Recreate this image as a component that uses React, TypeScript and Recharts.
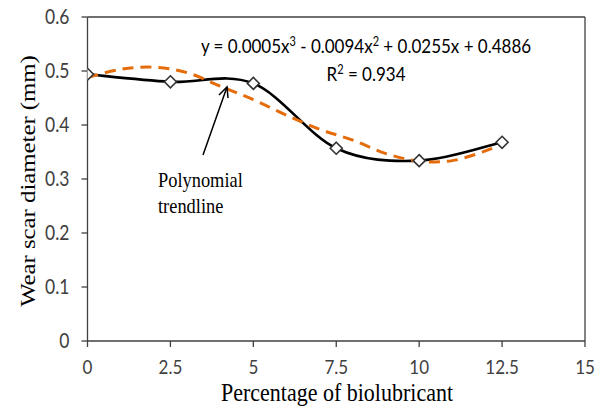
import React from "react"
import { LineChart, Line, XAxis, YAxis, ReferenceLine } from "recharts"

// measured wear scar diameters (mm) per biolubricant share (%)
const percentages = [0, 2.5, 5, 7.5, 10, 12.5]
const wearScar = [0.494, 0.48, 0.477, 0.357, 0.334, 0.368]

// polynomial trendline, sampled along the fitted curve
const trendX = [0, 1, 2, 3, 4, 5, 6, 7, 8, 9, 10, 11, 12, 12.5]
const trendY = [0.488, 0.503, 0.507, 0.497, 0.472, 0.447, 0.418, 0.392, 0.372, 0.347, 0.333, 0.334, 0.352, 0.365]

const xTicks = [0, 2.5, 5, 7.5, 10, 12.5, 15]
const yTicks = [0, 0.1, 0.2, 0.3, 0.4, 0.5, 0.6]

const seriesData = percentages.map((x, i) => ({ x, y: wearScar[i] }))
const trendData = trendX.map((x, i) => ({ x, y: trendY[i] }))

const AXIS = "#404040"
const SANS = "Lato, 'Open Sans', sans-serif"
const SERIF = "'Liberation Serif', 'Times New Roman', serif"
const STRETCH = 1.18

// Excel-style smoothed line (Catmull-Rom through every point)
const smoothCurve = (context: any) => {
  let pts: number[][] = []
  return {
    areaStart() {},
    areaEnd() {},
    lineStart() {
      pts = []
    },
    lineEnd() {
      if (!pts.length) return
      context.moveTo(pts[0][0], pts[0][1])
      for (let i = 0; i < pts.length - 1; i++) {
        const p0 = pts[i - 1] || pts[i]
        const p1 = pts[i]
        const p2 = pts[i + 1]
        const p3 = pts[i + 2] || p2
        context.bezierCurveTo(
          p1[0] + (p2[0] - p0[0]) / 6,
          p1[1] + (p2[1] - p0[1]) / 6,
          p2[0] - (p3[0] - p1[0]) / 6,
          p2[1] - (p3[1] - p1[1]) / 6,
          p2[0],
          p2[1]
        )
      }
    },
    point(x: number, y: number) {
      pts.push([+x, +y])
    },
  }
}

const Diamond = (props: any) => {
  const { cx, cy, index } = props
  if (cx == null || cy == null) return null
  const r = 6
  return (
    <path
      key={`d-${index}`}
      d={`M${cx},${cy - r}L${cx + r},${cy}L${cx},${cy + r}L${cx - r},${cy}Z`}
      fill="#fff"
      stroke="#333"
      strokeWidth={1.6}
    />
  )
}

const YTick = (props: any) => {
  const { x, y, payload } = props
  return (
    <g transform={`translate(${x},${y}) scale(1,${STRETCH})`}>
      <text x={0} y={0} dy="0.36em" textAnchor="end" fill={AXIS} fontSize={17.5} fontFamily={SANS}>
        {String(payload.value)}
      </text>
    </g>
  )
}

const XTick = (props: any) => {
  const { x, y, payload } = props
  return (
    <g transform={`translate(${x},${y}) scale(1,${STRETCH})`}>
      <text x={0} y={0} dy="0.72em" textAnchor="middle" fill={AXIS} fontSize={17} fontFamily={SANS}>
        {String(payload.value)}
      </text>
    </g>
  )
}

function Annotations() {
  return (
    <svg
      width={600}
      height={408}
      style={{ position: "absolute", left: 0, top: 0, pointerEvents: "none" }}
    >
      <g transform={`translate(28,181) scale(1,${STRETCH}) rotate(-90)`}>
        <text textAnchor="middle" dy="0.35em" fontSize={21} fontFamily={SERIF} fill="#000">
          Wear scar diameter (mm)
        </text>
      </g>
      <g transform={`translate(337,401) scale(1,${STRETCH})`}>
        <text textAnchor="middle" fontSize={22} fontFamily={SERIF} fill="#000">
          Percentage of biolubricant
        </text>
      </g>
      <g transform={`translate(366,53) scale(1,${STRETCH})`}>
        <text textAnchor="middle" fontSize={17} fontFamily={SANS} fill="#000">
          y = 0.0005x<tspan dy="-6" fontSize={11}>3</tspan>
          <tspan dy="6"> - 0.0094x</tspan>
          <tspan dy="-6" fontSize={11}>2</tspan>
          <tspan dy="6"> + 0.0255x + 0.4886</tspan>
        </text>
      </g>
      <g transform={`translate(366,81) scale(1,${STRETCH})`}>
        <text textAnchor="middle" fontSize={17} fontFamily={SANS} fill="#000">
          R<tspan dy="-6" fontSize={11}>2</tspan>
          <tspan dy="6"> = 0.934</tspan>
        </text>
      </g>
      <g transform={`translate(158,187) scale(1,${STRETCH})`}>
        <text fontSize={18.4} fontFamily={SERIF} fill="#000">Polynomial</text>
      </g>
      <g transform={`translate(158,213) scale(1,${STRETCH})`}>
        <text fontSize={18.4} fontFamily={SERIF} fill="#000">trendline</text>
      </g>
      <line x1={203} y1={155} x2={227} y2={87} stroke="#000" strokeWidth={1.5} />
      <polyline points="219,95 227,87 228,98" fill="none" stroke="#000" strokeWidth={1.5} />
    </svg>
  )
}

export default function App() {
  return (
    <div style={{ position: "absolute", left: 0, top: 0, width: 600, height: 408, background: "#fff" }}>
      <LineChart width={600} height={408} margin={{ top: 17, right: 15, bottom: 37, left: 27.5 }}>
        <XAxis
          type="number"
          dataKey="x"
          domain={[0, 15]}
          ticks={xTicks}
          allowDataOverflow
          height={30}
          stroke={AXIS}
          strokeWidth={1.3}
          tickSize={6}
          tickMargin={13}
          tick={<XTick />}
        />
        <YAxis
          type="number"
          dataKey="y"
          domain={[0, 0.6]}
          ticks={yTicks}
          width={60}
          stroke={AXIS}
          strokeWidth={1.3}
          tickSize={6}
          tickMargin={12}
          tick={<YTick />}
        />
        <ReferenceLine y={0.6} stroke={AXIS} strokeWidth={1.3} />
        <ReferenceLine x={15} stroke={AXIS} strokeWidth={1.3} />
        <Line
          data={seriesData}
          dataKey="y"
          type={smoothCurve as any}
          stroke="#000"
          strokeWidth={2.6}
          dot={false}
          isAnimationActive={false}
        />
        <Line
          data={trendData}
          dataKey="y"
          type={smoothCurve as any}
          stroke="#E46C0A"
          strokeWidth={3}
          strokeDasharray="11 7"
          dot={false}
          isAnimationActive={false}
        />
        <Line
          data={seriesData}
          dataKey="y"
          stroke="none"
          dot={<Diamond />}
          isAnimationActive={false}
        />
      </LineChart>
      <Annotations />
    </div>
  )
}
